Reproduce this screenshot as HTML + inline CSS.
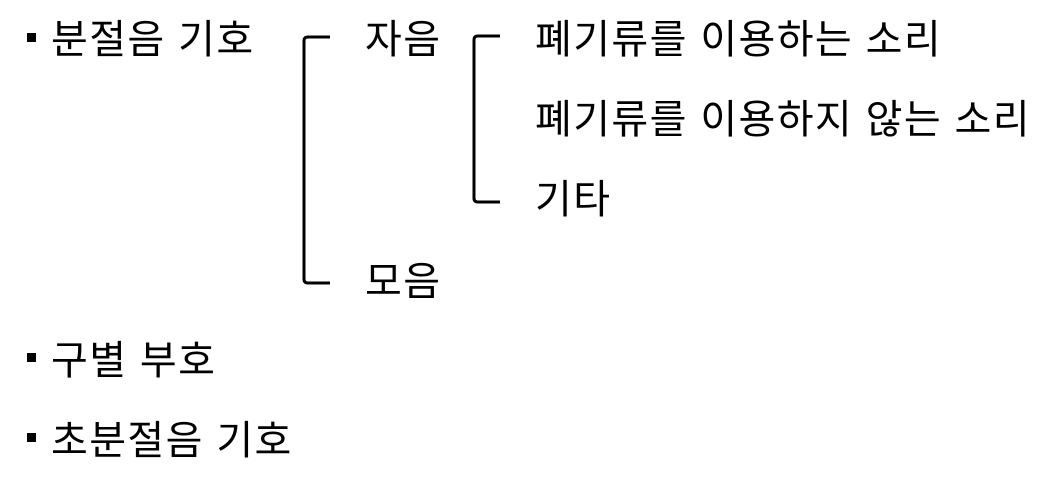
<!DOCTYPE html>
<html><head><meta charset="utf-8"><style>
body{margin:0;width:1054px;height:490px;background:#fff;position:relative;overflow:hidden;font-family:"Liberation Sans","Noto Sans CJK KR","NanumGothic",sans-serif;color:#000}
.t{position:absolute;font-size:40px;line-height:40px;white-space:nowrap;letter-spacing:1.4px}
.b{position:absolute;width:9px;height:9px;background:#000;left:27px}
</style></head><body>
<div class="b" style="top:33px"></div>
<div class="b" style="top:353px"></div>
<div class="b" style="top:433px"></div>
<div class="t" style="left:51px;top:20px">분절음 기호</div>
<div class="t" style="left:365px;top:20px">자음</div>
<div class="t" style="left:365px;top:262px">모음</div>
<div class="t" style="left:535px;top:20px">폐기류를 이용하는 소리</div>
<div class="t" style="left:535px;top:100px">폐기류를 이용하지 않는 소리</div>
<div class="t" style="left:535px;top:180px">기타</div>
<div class="t" style="left:51px;top:341px">구별 부호</div>
<div class="t" style="left:51px;top:421px">초분절음 기호</div>
<svg width="1054" height="490" style="position:absolute;left:0;top:0">
<path d="M330 37 H308 Q304 37 304 41 V279 Q304 283 308 283 H330" fill="none" stroke="#000" stroke-width="3"/>
<path d="M500 36 H478 Q474 36 474 40 V198 Q474 202 478 202 H500" fill="none" stroke="#000" stroke-width="3"/>
</svg>
</body></html>
